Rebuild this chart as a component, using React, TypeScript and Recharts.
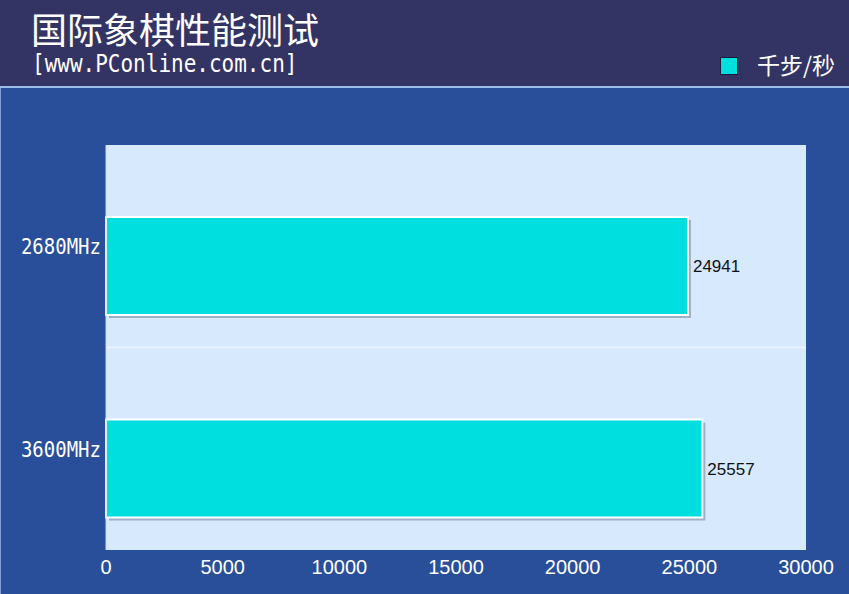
import React from 'react';
import { BarChart, Bar, XAxis, YAxis, CartesianGrid, LabelList } from 'recharts';

const categories = ['2680MHz', '3600MHz'];
const values = [24941, 25557];
const xTicks = [0, 5000, 10000, 15000, 20000, 25000, 30000];
const title = '国际象棋性能测试';
const subtitle = '[www.PConline.com.cn]';
const seriesName = '千步/秒';

const data = categories.map((c, i) => ({ name: c, value: values[i] }));

const BAR_SHIFT = 20;

const BarShape = (props: any) => {
  const { x, y, width, height } = props;
  const yy = y + BAR_SHIFT;
  return (
    <g>
      <rect x={x + 3} y={yy + 3} width={width} height={height} fill="rgba(60,70,100,0.35)" />
      <rect x={x} y={yy} width={width} height={height} fill="#00dfdf" stroke="#ffffff" strokeWidth={2} />
    </g>
  );
};

const ValueLabel = (props: any) => {
  const { x, y, width, height, value } = props;
  return (
    <text x={x + width + 5} y={y + height / 2 + BAR_SHIFT} dy="0.36em" fill="#111" fontSize={17} fontFamily="Arial, 'Liberation Sans', sans-serif">
      {value}
    </text>
  );
};

const YTick = (props: any) => {
  const { x, y, payload } = props;
  return (
    <text x={x} y={y} dy="0.36em" textAnchor="end" fill="#ffffff" fontSize={19} fontFamily="'DejaVu Sans Mono', monospace" transform={`translate(${x},${y}) scale(1,1.15) translate(${-x},${-y})`}>
      {payload.value}
    </text>
  );
};

export default function App() {
  return (
    <div style={{ position: 'absolute', left: 0, top: 0, width: 849, height: 594, background: '#2a4f9a', overflow: 'hidden' }}>
      <div style={{ position: 'absolute', left: 0, top: 0, width: 849, height: 86, background: '#343464' }} />
      <div style={{ position: 'absolute', left: 0, top: 86, width: 849, height: 2, background: '#9dbde9' }} />
      <div style={{ position: 'absolute', left: 0, top: 88, width: 1, height: 506, background: '#7f9fd6' }} />
      <svg width={849} height={88} style={{ position: 'absolute', left: 0, top: 0 }}>
        <text x={31} y={44} fill="#fff" fontSize={36} fontFamily="'Noto Sans CJK SC', sans-serif">{title}</text>
        <text x={32} y={72} fill="#fff" fontSize={21} fontFamily="'DejaVu Sans Mono', monospace" transform="translate(0,72) scale(1,1.2) translate(0,-72)">{subtitle}</text>
        <text x={757} y={74} fill="#fff" fontSize={23} fontFamily="'Noto Sans CJK SC', sans-serif">{seriesName}</text>
      </svg>
      <div style={{ position: 'absolute', left: 720, top: 57, width: 16, height: 16, background: '#00dfdf', border: '1px solid #1a1a3a' }} />
      <div style={{ position: 'absolute', left: 0, top: 88 }}>
        <BarChart width={849} height={506} data={data} layout="vertical" margin={{ top: 57, right: 43, bottom: 0, left: 0 }}>
          <CartesianGrid
            vertical={false}
            stroke="#eaf3ff"
            strokeWidth={2}
            fill="#d6e9fd"
            horizontalCoordinatesGenerator={(p: any) => [p.offset.top + p.offset.height / 2]}
          />
          <XAxis
            type="number"
            domain={[0, 30000]}
            ticks={xTicks}
            axisLine={false}
            tickLine={false}
            height={44}
            tickMargin={4}
            tick={{ fill: '#ffffff', fontSize: 20, fontFamily: "Arial, 'Liberation Sans', sans-serif" }}
            interval={0}
          />
          <YAxis
            type="category"
            dataKey="name"
            width={106}
            axisLine={{ stroke: '#c8dcf5', strokeWidth: 1 }}
            tickLine={false}
            tickSize={0}
            tickMargin={5}
            tick={<YTick />}
          />
          <Bar dataKey="value" barSize={98} shape={<BarShape />} isAnimationActive={false}>
            <LabelList dataKey="value" content={<ValueLabel />} />
          </Bar>
        </BarChart>
      </div>
    </div>
  );
}
